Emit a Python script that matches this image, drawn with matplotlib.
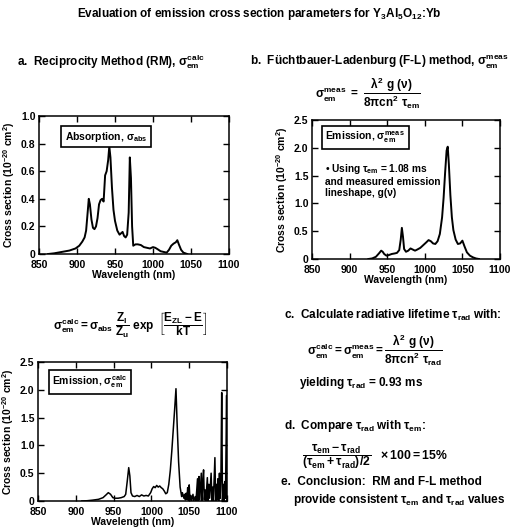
import matplotlib
matplotlib.use('Agg')
import matplotlib.pyplot as plt

plt.rcParams['font.family'] = ['Liberation Sans', 'DejaVu Sans']
plt.rcParams['font.weight'] = 'bold'
plt.rcParams['axes.labelweight'] = 'bold'
plt.rcParams['mathtext.fontset'] = 'custom'
plt.rcParams['mathtext.rm'] = 'Liberation Sans:bold'
plt.rcParams['mathtext.it'] = 'Liberation Sans:bold'
plt.rcParams['mathtext.bf'] = 'Liberation Sans:bold'
plt.rcParams['mathtext.sf'] = 'Liberation Sans:bold'

# absorption cross section (a)
abs_wl = [862, 870, 880, 890, 898, 903, 907, 910, 912, 914,
          915.5, 917, 919, 921, 923, 925, 927, 929, 931, 933,
          935, 937, 939, 941, 942.5, 944, 946, 948, 950, 953,
          956, 958, 960, 962, 964, 966, 968, 969.5, 971, 972.5,
          974, 977, 980, 984, 988, 992, 996, 1000, 1003, 1006,
          1010, 1014, 1018, 1021, 1024, 1027, 1030, 1032, 1034, 1037,
          1040, 1045]
abs_val = [0, 0.005, 0.015, 0.025, 0.04, 0.06, 0.09, 0.12, 0.17, 0.30,
           0.40, 0.36, 0.25, 0.19, 0.18, 0.20, 0.26, 0.36, 0.39, 0.40,
           0.38, 0.57, 0.60, 0.68, 0.78, 0.70, 0.48, 0.32, 0.24, 0.17,
           0.14, 0.15, 0.16, 0.13, 0.12, 0.14, 0.30, 0.70, 0.55, 0.20,
           0.06, 0.07, 0.07, 0.065, 0.05, 0.045, 0.04, 0.05, 0.045, 0.035,
           0.02, 0.015, 0.01, 0.03, 0.06, 0.075, 0.085, 0.10, 0.07, 0.03,
           0.01, 0]

# measured emission cross section (b)
meas_wl = [925, 930, 935, 939, 942, 944, 946, 949, 952, 956,
           960, 963, 966, 968, 969.5, 971, 972.5, 975, 978, 981,
           984, 987, 990, 994, 998, 1002, 1005, 1008, 1011, 1014,
           1017, 1020, 1023, 1025, 1027, 1029, 1030.5, 1032, 1034, 1036,
           1038, 1041, 1044, 1047, 1050, 1053, 1056, 1060, 1064, 1068,
           1072]
meas_val = [0, 0.01, 0.04, 0.10, 0.15, 0.13, 0.09, 0.06, 0.07, 0.09,
            0.10, 0.11, 0.16, 0.35, 0.56, 0.40, 0.18, 0.13, 0.15, 0.19,
            0.17, 0.15, 0.17, 0.20, 0.25, 0.30, 0.34, 0.32, 0.28, 0.27,
            0.32, 0.45, 0.75, 1.10, 1.55, 1.95, 2.02, 1.70, 1.15, 0.75,
            0.52, 0.35, 0.27, 0.28, 0.33, 0.22, 0.12, 0.06, 0.03, 0.01,
            0]

# calculated emission cross section (RM), noisy tail past 1040 nm
calc_wl = [908, 915, 922, 930, 936, 940, 943, 946, 949, 952,
           956, 960, 964, 966, 968, 970, 971.5, 973, 975, 978,
           981, 984, 987, 990, 993, 996, 999, 1001, 1003, 1005,
           1007, 1009, 1011, 1013, 1015, 1017, 1019, 1021, 1023, 1025,
           1027, 1029, 1031, 1032.5, 1034, 1036, 1038, 1040,
           1041, 1043, 1044, 1045, 1046, 1047, 1048, 1049, 1050, 1051,
           1052, 1053, 1055, 1056, 1058, 1059, 1061, 1062, 1063, 1064,
           1066, 1067, 1068, 1069, 1070, 1071, 1072, 1074, 1075, 1076,
           1077, 1079, 1080, 1081, 1082, 1084, 1085, 1086, 1087, 1088,
           1089, 1090, 1091, 1092, 1093, 1094, 1095, 1096, 1097, 1098,
           1099.5, 1100]
calc_val = [0, 0.005, 0.015, 0.03, 0.06, 0.11, 0.15, 0.12, 0.06, 0.05,
            0.05, 0.06, 0.08, 0.12, 0.35, 0.60, 0.45, 0.15, 0.09, 0.08,
            0.10, 0.08, 0.11, 0.09, 0.10, 0.09, 0.15, 0.22, 0.26, 0.24,
            0.28, 0.25, 0.27, 0.24, 0.22, 0.18, 0.13, 0.15, 0.30, 0.55,
            0.90, 1.30, 1.70, 2.02, 1.40, 0.70, 0.25, 0.08,
            0.15, 0.05, 0.12, 0.02, 0.14, 0.03, 0.24, 0.01, 0.29, 0.02,
            0.10, 0.0, 0.12, 0.0, 0.08, 0.0, 0.40, 0.0, 0.44, 0.02,
            0.50, 0.0, 0.35, 0.56, 0.02, 0.20, 0.0, 0.42, 0.0, 0.30,
            0.05, 0.50, 0.0, 0.25, 0.0, 0.78, 0.0, 0.30, 0.02, 0.40,
            0.0, 0.50, 0.05, 0.45, 1.95, 0.0, 0.30, 0.0, 0.35, 0.05,
            1.90, 0.0]

x_ticks = [850, 900, 950, 1000, 1050, 1100]
abs_yticks = [0, 0.2, 0.4, 0.6, 0.8, 1.0]
abs_ylabels = ['0', '0.2', '0.4', '0.6', '0.8', '1.0']
em_yticks = [0, 0.5, 1.0, 1.5, 2.0, 2.5]
em_ylabels = ['0', '0.5', '1.0', '1.5', '2.0', '2.5']

W, H = 518, 527
fig = plt.figure(figsize=(W / 100, H / 100), dpi=100)


def box(x0, y0, x1, y1):
    # pixel box -> figure fraction rect
    return [x0 / W, 1 - y1 / H, (x1 - x0) / W, (y1 - y0) / H]


def ftext(x, y, s, **kw):
    kw.setdefault('fontsize', 8.5)
    kw.setdefault('va', 'center')
    fig.text(x / W, 1 - y / H, s, **kw)


def style(ax, yt, yl, ymax):
    ax.set_xlim(850, 1100)
    ax.set_ylim(0, ymax)
    ax.set_xticks(x_ticks, [str(t) for t in x_ticks])
    ax.set_yticks(yt, yl)
    ax.tick_params(direction='in', top=True, right=True, length=4, width=1,
                   labelsize=7.5)
    ax.tick_params(axis='x', pad=4)
    ax.tick_params(axis='y', pad=2.5)
    for s in ax.spines.values():
        s.set_linewidth(1.1)
    ax.set_xlabel('Wavelength (nm)', fontsize=7.5, labelpad=0)
    ax.set_ylabel('Cross section (10$^{-20}$ cm$^2$)', fontsize=7.5, labelpad=3)


lab_box = dict(boxstyle='square,pad=0.35', fc='white', ec='black', lw=1.2)

ax1 = fig.add_axes(box(39, 116, 229, 254))
ax1.plot(abs_wl, abs_val, color='black', lw=1.4)
style(ax1, abs_yticks, abs_ylabels, 1.0)
ax1.text(0.135, 0.85, r'Absorption, $\sigma_{abs}$', transform=ax1.transAxes,
         fontsize=7.5, va='center', bbox=lab_box)

ax2 = fig.add_axes(box(312, 120, 500, 259))
ax2.plot(meas_wl, meas_val, color='black', lw=1.4)
style(ax2, em_yticks, em_ylabels, 2.5)
ax2.text(0.07, 0.874, r'Emission, $\sigma_{em}^{meas}$', transform=ax2.transAxes,
         fontsize=7.5, va='center', bbox=lab_box)
ax2.text(0.07, 0.70, '\u2022 Using $\\tau_{em}$ = 1.08 ms\nand measured emission\nlineshape, g(\u03bd)',
         transform=ax2.transAxes, fontsize=7.3, va='top', linespacing=1.15)

ax3 = fig.add_axes(box(38, 362, 227, 501))
ax3.plot(calc_wl, calc_val, color='black', lw=1.1)
style(ax3, em_yticks, em_ylabels, 2.5)
ax3.text(0.075, 0.856, r'Emission, $\sigma_{em}^{calc}$', transform=ax3.transAxes,
         fontsize=7.5, va='center', bbox=lab_box)

# headings and formulas
ftext(259, 14, 'Evaluation of emission cross section parameters for Y$_3$Al$_5$O$_{12}$:Yb',
      ha='center')
ftext(17, 62, r'a.  Reciprocity Method (RM), $\sigma_{em}^{calc}$')
ftext(250, 62, r'b.  F' + '\u00fc' + r'chtbauer-Ladenburg (F-L) method, $\sigma_{em}^{meas}$')
ftext(315, 93, r'$\sigma_{em}^{meas}\ =\ \dfrac{\lambda^2\ g\ (\nu)}{8\pi cn^2\ \tau_{em}}$')
ftext(53, 325, r'$\sigma_{em}^{calc} = \sigma_{abs}\ \dfrac{Z_l}{Z_u}\ \exp\ \left[\dfrac{E_{ZL} - E}{kT}\right]$')
ftext(284, 315, r'c.  Calculate radiative lifetime $\tau_{rad}$ with:')
ftext(307, 350, r'$\sigma_{em}^{calc} = \sigma_{em}^{meas} = \dfrac{\lambda^2\ g\ (\nu)}{8\pi cn^2\ \tau_{rad}}$')
ftext(299, 383, r'yielding $\tau_{rad}$ = 0.93 ms')
ftext(284, 426, r'd.  Compare $\tau_{rad}$ with $\tau_{em}$:')
ftext(302, 457, r'$\dfrac{\tau_{em} - \tau_{rad}}{(\tau_{em} + \tau_{rad})/2}\ \ \times 100 = 15\%$', fontsize=8.8)
ftext(281, 482, 'e.  Conclusion:  RM and F-L method')
ftext(293, 500, r'provide consistent $\tau_{em}$ and $\tau_{rad}$ values')

fig.savefig('out.png', dpi=100)
